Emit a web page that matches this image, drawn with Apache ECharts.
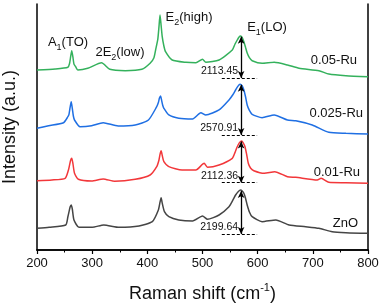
<!DOCTYPE html>
<html>
<head>
<meta charset="utf-8">
<script src="https://cdn.jsdelivr.net/npm/echarts@6/dist/echarts.min.js"></script>
<style>
  html, body { margin: 0; padding: 0; background: #fff; }
  #chart { width: 387px; height: 305px; }
</style>
</head>
<body>
<div id="chart"></div>
<script>
// Raman spectra, stacked with offsets: [shift (cm-1), intensity (counts)]
const ru005 = [
  [200, 9220], [233, 9271], [256, 9358], [259, 9550], [261, 9900], [263, 10208], [265, 9900],
  [267, 9520], [270, 9389], [274, 9220], [292, 9307], [317, 9593], [332, 9255], [360, 9184],
  [390, 9255], [405, 9563], [412, 9850], [415, 10244], [419, 10800], [421, 11400], [423, 12037],
  [425, 11500], [427, 10925], [430, 10450], [433, 10157], [445, 9732], [470, 9614], [488, 9593],
  [500, 9768], [506, 9614], [530, 9732], [554, 10244], [559, 10550], [563, 10756], [566, 10900],
  [569, 10961], [572, 10880], [575, 10669], [578, 10380], [581, 10090], [585, 9850], [590, 9696],
  [608, 9563], [630, 9614], [654, 9476], [675, 9307], [711, 9184], [729, 9015], [760, 8928],
  [800, 8877]
];
const ru0025 = [
  [200, 6233], [221, 6367], [248, 6520], [256, 6827], [258, 6950], [260, 7300], [262, 7596],
  [264, 7250], [266, 6850], [268, 6659], [278, 6315], [299, 6367], [320, 6520], [347, 6351],
  [378, 6403], [402, 6659], [417, 7340], [420, 7550], [422, 7780], [424, 7888], [426, 7650],
  [428, 7400], [430, 7258], [439, 6915], [457, 6746], [482, 6710], [497, 7033], [506, 6915],
  [530, 7171], [548, 7683], [555, 7950], [560, 8195], [564, 8380], [568, 8487], [572, 8400],
  [575, 8195], [578, 7850], [581, 7427], [585, 7150], [590, 6951], [608, 6776], [630, 6915],
  [654, 6659], [669, 6623], [699, 6403], [729, 6029], [760, 5977], [800, 5942]
];
const ru001 = [
  [200, 3550], [227, 3585], [251, 3672], [257, 4098], [259, 4350], [261, 4600], [263, 4697],
  [265, 4450], [268, 3929], [275, 3621], [299, 3534], [320, 3637], [341, 3519], [378, 3621],
  [405, 3842], [417, 4267], [421, 4600], [423, 4900], [425, 5086], [427, 4850], [430, 4523],
  [439, 4267], [463, 4098], [488, 4098], [503, 4441], [509, 4236], [530, 4354], [554, 4697],
  [559, 5000], [563, 5291], [567, 5500], [571, 5583], [574, 5480], [577, 5291], [580, 4900],
  [583, 4441], [587, 4200], [593, 4062], [612, 3929], [631, 4011], [654, 3754], [669, 3724],
  [708, 3585], [715, 3672], [729, 3468], [760, 3447], [800, 3416]
];
const zno = [
  [200, 1111], [222, 1163], [252, 1281], [256, 1706], [258, 1950], [260, 2200], [262, 2305],
  [264, 2100], [267, 1537], [276, 1163], [300, 1163], [321, 1281], [349, 1163], [385, 1229],
  [409, 1450], [420, 2049], [423, 2450], [425, 2679], [427, 2400], [431, 1962], [439, 1706],
  [457, 1537], [482, 1485], [500, 1741], [509, 1572], [530, 1793], [548, 2218], [555, 2550],
  [560, 2817], [565, 3000], [569, 3073], [572, 3020], [575, 2904], [578, 2650], [581, 2305],
  [585, 1950], [590, 1706], [608, 1450], [633, 1537], [657, 1281], [687, 1193], [711, 1111],
  [735, 937], [760, 886], [800, 855]
];

const names = ['0.05-Ru', '0.025-Ru', '0.01-Ru', 'ZnO'];
const spectra = [ru005, ru0025, ru001, zno];
const colors = ['#34b15c', '#1f6fe3', '#f2373a', '#454545'];
// E1(LO) peak height above the local baseline
const e1Baseline = [8810, 5890, 3447, 820];
const e1Height = [2113.45, 2570.91, 2112.36, 2199.64];
const e1Shift = 570;
const baseFrom = 535, baseTo = 599;

const xTicks = [200, 300, 400, 500, 600, 700, 800];

const FONT = '"Liberation Sans", Arial, sans-serif';

const chart = echarts.init(document.getElementById('chart'), null, { renderer: 'canvas' });

const series = spectra.map((data, i) => ({
  name: names[i],
  type: 'line',
  data,
  showSymbol: false,
  symbol: 'none',
  smooth: 0.2,
  lineStyle: { color: colors[i], width: 1.5 },
  markLine: {
    silent: true,
    symbol: 'none',
    label: { show: false },
    data: [
      [
        { coord: [baseFrom, e1Baseline[i]], symbol: 'none', lineStyle: { color: '#000', width: 1, type: [3, 2] } },
        { coord: [baseTo, e1Baseline[i]], symbol: 'none' }
      ],
      [
        { coord: [e1Shift, e1Baseline[i]], symbol: 'arrow', symbolSize: [5, 7], lineStyle: { color: '#000', width: 1.3, type: 'solid' } },
        { coord: [e1Shift, e1Baseline[i] + e1Height[i]], symbol: 'arrow', symbolSize: [5, 7] }
      ]
    ]
  },
  markPoint: {
    silent: true,
    symbol: 'circle',
    symbolSize: 0,
    data: [{
      coord: [e1Shift, e1Baseline[i]],
      label: {
        show: true,
        position: 'left',
        distance: 3,
        offset: [0, -7],
        formatter: e1Height[i].toFixed(2),
        color: '#111',
        fontSize: 10.5,
        fontFamily: FONT
      }
    }]
  }
}));

const sub = { fontSize: 9, fontFamily: FONT, color: '#111', verticalAlign: 'bottom', lineHeight: 12 };
const txt = { fontSize: 13, fontFamily: FONT, color: '#111', lineHeight: 20 };

function label(x, y, text, align) {
  return {
    type: 'text', x, y, silent: true,
    style: {
      text, fill: '#111', font: '12.5px ' + FONT,
      align: align || 'center', verticalAlign: 'middle',
      rich: { n: txt, s: sub }
    }
  };
}

chart.setOption({
  animation: false,
  backgroundColor: '#fff',
  grid: { left: 37, right: 19, top: 4, bottom: 55, outerBoundsMode: 'none', containLabel: false },
  xAxis: [{
    type: 'value', min: 200, max: 800, interval: 100,
    name: '{a|Raman shift (cm}{sup|-1}{a|)}',
    nameLocation: 'middle', nameGap: 32,
    nameTextStyle: {
      rich: {
        a: { fontSize: 18, fontFamily: FONT, color: '#111', lineHeight: 24 },
        sup: { fontSize: 11, fontFamily: FONT, color: '#111', verticalAlign: 'top', lineHeight: 12 }
      }
    },
    axisLine: { lineStyle: { color: '#000', width: 1.5 } },
    axisTick: { inside: false, length: 4, lineStyle: { color: '#000', width: 1.2 } },
    minorTick: { show: true, splitNumber: 2, length: 2.5, lineStyle: { color: '#000', width: 1 } },
    axisLabel: {
      color: '#111', fontSize: 13, fontFamily: FONT, margin: 7,
      customValues: xTicks
    },
    splitLine: { show: false }
  }, {
    type: 'value', min: 200, max: 800, position: 'top',
    axisLine: { show: true, lineStyle: { color: '#000', width: 1.5 } },
    axisTick: { show: false }, axisLabel: { show: false }, splitLine: { show: false }
  }],
  yAxis: [{
    type: 'value', min: 0, max: 12600,
    name: 'Intensity (a.u.)',
    nameLocation: 'middle', nameGap: 18, nameRotate: 90,
    nameTextStyle: { fontSize: 18, fontFamily: FONT, color: '#111' },
    axisLine: { show: true, lineStyle: { color: '#000', width: 1.5 } },
    axisTick: { show: false }, axisLabel: { show: false }, splitLine: { show: false }
  }, {
    type: 'value', min: 0, max: 12600, position: 'right',
    axisLine: { show: true, lineStyle: { color: '#000', width: 1.5 } },
    axisTick: { show: false }, axisLabel: { show: false }, splitLine: { show: false }
  }],
  graphic: [
    label(68, 42, '{n|A}{s|1}{n|(TO)}'),
    label(120, 52, '{n|2E}{s|2}{n|(low)}'),
    label(189, 17, '{n|E}{s|2}{n|(high)}'),
    label(267, 27, '{n|E}{s|1}{n|(LO)}'),
    label(357, 60, '{n|0.05-Ru}', 'right'),
    label(363, 113, '{n|0.025-Ru}', 'right'),
    label(360, 172, '{n|0.01-Ru}', 'right'),
    label(358, 223, '{n|ZnO}', 'right')
  ],
  series
});
</script>
</body>
</html>
